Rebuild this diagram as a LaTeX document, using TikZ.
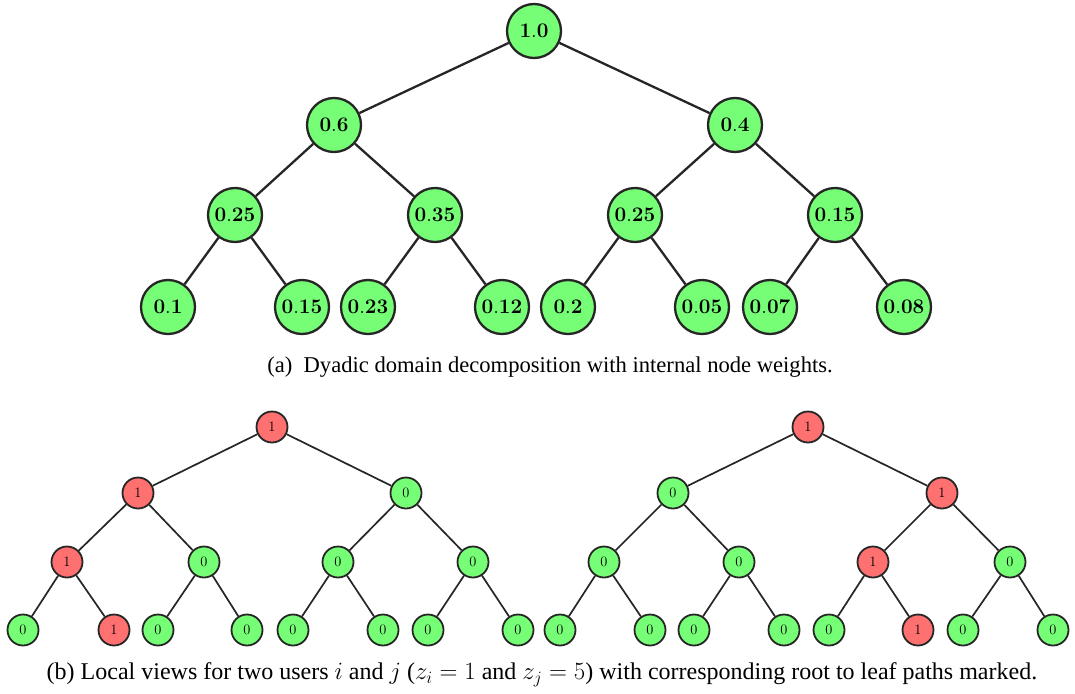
\documentclass[tikz,border=0pt]{standalone}
\usepackage[no-math]{fontspec}
\setmainfont{Liberation Serif}
\definecolor{ngreen}{RGB}{118,255,118}
\definecolor{nred}{RGB}{255,112,112}
\begin{document}
\begin{tikzpicture}[x=1pt,y=-1pt,
  big/.style={circle,draw=black!85,line width=2.3pt,fill=ngreen,minimum size=54pt,inner sep=0pt,font=\fontsize{19.5}{22}\selectfont},
  sg/.style={circle,draw=black!85,line width=1.8pt,fill=ngreen,minimum size=31pt,inner sep=0pt,font=\fontsize{14}{16}\selectfont},
  sr/.style={sg,fill=nred},
  bedge/.style={line width=2.3pt,black!85},
  sedge/.style={line width=1.7pt,black!85},
  capa/.style={font=\fontsize{22.6}{26}\selectfont},
  capb/.style={font=\fontsize{24}{28}\selectfont}
]
\useasboundingbox (0,0) rectangle (1075,693);
% top tree
\node[big] (r) at (534,31) {$\mathbf{1.0}$};
\node[big] (a) at (334,125) {$\mathbf{0.6}$};
\node[big] (b) at (735,125) {$\mathbf{0.4}$};
\node[big] (aa) at (235,215) {$\mathbf{0.25}$};
\node[big] (ab) at (435,215) {$\mathbf{0.35}$};
\node[big] (ba) at (635,215) {$\mathbf{0.25}$};
\node[big] (bb) at (835,215) {$\mathbf{0.15}$};
\node[big] (l1) at (168,307) {$\mathbf{0.1}$};
\node[big] (l2) at (302,307) {$\mathbf{0.15}$};
\node[big] (l3) at (368,307) {$\mathbf{0.23}$};
\node[big] (l4) at (502,307) {$\mathbf{0.12}$};
\node[big] (l5) at (568,307) {$\mathbf{0.2}$};
\node[big] (l6) at (702,307) {$\mathbf{0.05}$};
\node[big] (l7) at (770,307) {$\mathbf{0.07}$};
\node[big] (l8) at (904,307) {$\mathbf{0.08}$};
\draw[bedge] (r)--(a) (r)--(b) (a)--(aa) (a)--(ab) (b)--(ba) (b)--(bb)
  (aa)--(l1) (aa)--(l2) (ab)--(l3) (ab)--(l4) (ba)--(l5) (ba)--(l6) (bb)--(l7) (bb)--(l8);
\node[capa] (capa) at (550,367) {(a)\ \ Dyadic domain decomposition with internal node weights.};
% bottom left tree
\node[sr] (Lr) at (272,427) {$1$};
\node[sr] (La) at (138,493) {$1$};
\node[sg] (Lb) at (406,493) {$0$};
\node[sr] (Laa) at (67,562) {$1$};
\node[sg] (Lab) at (204,562) {$0$};
\node[sg] (Lba) at (338,562) {$0$};
\node[sg] (Lbb) at (473,562) {$0$};
\node[sg] (L1) at (23,630) {$0$};
\node[sr] (L2) at (114,630) {$1$};
\node[sg] (L3) at (158,630) {$0$};
\node[sg] (L4) at (247,630) {$0$};
\node[sg] (L5) at (293,630) {$0$};
\node[sg] (L6) at (383,630) {$0$};
\node[sg] (L7) at (428,630) {$0$};
\node[sg] (L8) at (518,630) {$0$};
\draw[sedge] (Lr)--(La) (Lr)--(Lb) (La)--(Laa) (La)--(Lab) (Lb)--(Lba) (Lb)--(Lbb)
  (Laa)--(L1) (Laa)--(L2) (Lab)--(L3) (Lab)--(L4) (Lba)--(L5) (Lba)--(L6) (Lbb)--(L7) (Lbb)--(L8);
% bottom right tree
\node[sr] (Rr) at (808,427) {$1$};
\node[sg] (Ra) at (673,493) {$0$};
\node[sr] (Rb) at (942,493) {$1$};
\node[sg] (Raa) at (604,562) {$0$};
\node[sg] (Rab) at (739,562) {$0$};
\node[sr] (Rba) at (873,562) {$1$};
\node[sg] (Rbb) at (1010,562) {$0$};
\node[sg] (R1) at (560,630) {$0$};
\node[sg] (R2) at (650,630) {$0$};
\node[sg] (R3) at (694,630) {$0$};
\node[sg] (R4) at (784,630) {$0$};
\node[sg] (R5) at (829,630) {$0$};
\node[sr] (R6) at (918,630) {$1$};
\node[sg] (R7) at (963,630) {$0$};
\node[sg] (R8) at (1053,630) {$0$};
\draw[sedge] (Rr)--(Ra) (Rr)--(Rb) (Ra)--(Raa) (Ra)--(Rab) (Rb)--(Rba) (Rb)--(Rbb)
  (Raa)--(R1) (Raa)--(R2) (Rab)--(R3) (Rab)--(R4) (Rba)--(R5) (Rba)--(R6) (Rbb)--(R7) (Rbb)--(R8);
\node[capb] (capb) at (542,675) {(b)\ Local views for two users $i$ and $j$ ($z_i=1$ and $z_j=5$) with corresponding root to leaf paths marked.};
\end{tikzpicture}
\end{document}
